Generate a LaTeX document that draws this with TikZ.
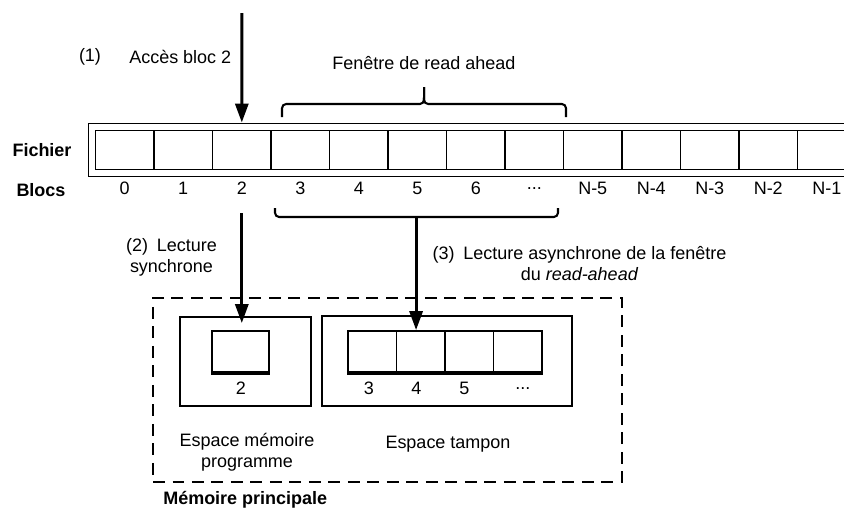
\documentclass[tikz,border=0pt]{standalone}
\usepackage{fontspec}
\setmainfont{Liberation Sans}
\usetikzlibrary{arrows.meta}
\newcommand\fsdots{...}

\begin{document}
\begin{tikzpicture}[scale=2.54,
  font=\fontsize{13}{15}\selectfont,
  fcell/.style={draw,line width=1.4pt,minimum width=0.585in,minimum height=0.39in,inner sep=0pt},
  bcell/.style={draw,line width=1.4pt,minimum width=0.485in,minimum height=0.41in,inner sep=0pt},
  membox/.style={draw,line width=0.9pt,inner sep=0pt},
  bigarrow/.style={line width=2.2pt,-{Triangle[length=0.19in,width=0.13in]}},
  brace/.style={line width=1.5pt,rounded corners=3pt},
  txt/.style={inner sep=0pt,align=center}]
% read ahead of a file into main memory
\ifx\fslw\undefined\newdimen\fslw\fi
\global\def\fsdraw{\draw[line width=\fslw]}
\fslw=0.6pt
\useasboundingbox (0,0) rectangle (8.44,-5.11);
\clip (0,0) rectangle (8.44,-5.11);
\foreach \i/\t in {0/0,1/1,2/2,3/3,4/4,5/5,6/6,7/\fsdots,8/N-5,9/N-4,10/N-3,11/N-2,12/N-1}{
  \node[fcell] (c\i) at (1.2475+0.585*\i,-1.5) {};
  \node[txt] (n\i) at (1.2475+0.585*\i,-1.885) {\t};
}
\fsdraw ([xshift=-0.023in,yshift=0.023in]c0.north west)
 rectangle ([xshift=0.023in,yshift=-0.023in]c12.south east);
\node[txt,font=\fontsize{13}{15}\selectfont\bfseries] (fich) at (0.42,-1.505) {Fichier};
\node[txt,font=\fontsize{13}{15}\selectfont\bfseries] (blocs) at (0.41,-1.9) {Blocs};
\coordinate (acc) at (2.4175,-0.13);
\draw[bigarrow,shorten >=0.07in] (acc) -- (c2.north);
\node[txt] (t1) at (0.9,-0.57) {(1)};
\node[txt,anchor=west] (t1b) at (1.29,-0.57) {Accès bloc 2};
\coordinate (wt) at (4.24,-0.87);
\draw[brace] (2.82,-1.17) -- (2.82,-1.04) -- (4.24,-1.04) -- (wt);
\draw[brace] (5.66,-1.17) -- (5.66,-1.04) -- (4.24,-1.04) -- (wt);
\node[txt] (fen) at (4.24,-0.63) {Fenêtre de read ahead};
\coordinate (rt) at (4.16,-2.17);
\draw[brace] (2.75,-2.08) |- (5.58,-2.17) -- (5.58,-2.08);
\node[draw,line width=2pt,dash pattern=on 0.12in off 0.075in,inner sep=0pt,
  minimum width=4.69in,minimum height=1.84in] (mem) at (3.875,-3.9) {};
\node[membox,minimum width=1.31in,minimum height=0.89in] (prog) at (2.455,-3.615) {};
\node[membox,minimum width=2.5in,minimum height=0.9in] (buf) at (4.47,-3.61) {};
\node[bcell,minimum width=0.57in] (p) at (2.405,-3.515) {};
\draw[line width=2.2pt] (p.south west) -- (p.south east);
\node[txt] (p2) at (2.41,-3.885) {2};
\foreach \i/\t/\d in {0/3/-0.035,1/4/-0.045,2/5/-0.05,3/\fsdots/0.05}{
  \node[bcell] (b\i) at (3.7225+0.485*\i,-3.515) {};
  \node[txt] (m\i) at (3.7225+0.485*\i+\d,-3.885) {\t};
}
\draw[line width=2.2pt] (b0.south west) -- (b3.south east);
\coordinate (sy) at (2.4175,-2.13);
\draw[bigarrow,shorten >=0.07in] (sy) -- (sy |- p.north);
\draw[bigarrow] (rt) -- (rt |- b1.north);
\node[txt] (t2) at (1.715,-2.57) {(2)\hspace{0.5em}Lecture\\synchrone};
\node[txt] (t3) at (5.795,-2.635) {(3)\hspace{0.5em}Lecture asynchrone de la fenêtre\\du \textit{read-ahead}};
\node[txt] (esp) at (2.47,-4.52) {Espace mémoire\\programme};
\node[txt] (tam) at (4.48,-4.44) {Espace tampon};
\node[txt,anchor=west,font=\fontsize{13}{15}\selectfont\bfseries] (mp) at (1.63,-5.0) {Mémoire principale};
\end{tikzpicture}
\end{document}
